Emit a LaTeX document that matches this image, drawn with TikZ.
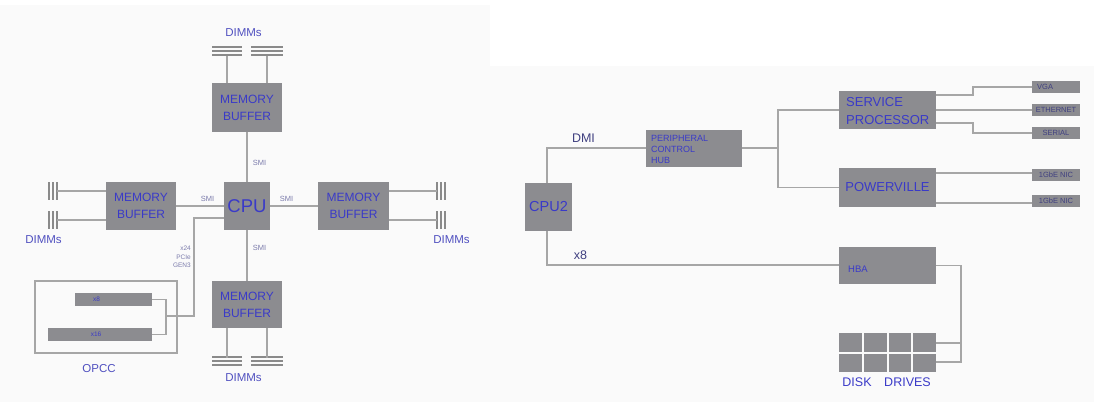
\documentclass[tikz,border=0pt]{standalone}
\usepackage{fontspec}
\setmainfont{Liberation Sans}
\definecolor{boxgrey}{HTML}{8C8C90}
\definecolor{linegrey}{HTML}{A6A6A6}
\definecolor{txtblue}{HTML}{3A3AC8}
\definecolor{lblblue}{HTML}{5050C0}
\definecolor{smigrey}{HTML}{7C7CAC}
\definecolor{darklbl}{HTML}{404080}
\definecolor{bgpanel}{HTML}{FAFAFA}
\definecolor{slotgrey}{HTML}{8A8A8A}
\tikzset{
  blk/.style={fill=boxgrey, draw=none, inner sep=0pt, text=txtblue, align=center},
  memtxt/.style={font=\fontsize{12}{17}\selectfont},
  wire/.style={draw=linegrey, line width=1.8pt},
  thinwire/.style={draw=linegrey, line width=1.4pt},
  slotln/.style={draw=slotgrey, line width=1.1pt},
  smilbl/.style={text=smigrey, font=\fontsize{7.5}{8}\selectfont, inner sep=0pt},
  dimmlbl/.style={text=lblblue, font=\fontsize{11.5}{12}\selectfont, inner sep=0pt},
  btxt/.style={text=txtblue, inner sep=0pt, anchor=west, align=left},
  small/.style={blk, minimum width=48pt, minimum height=12pt},
  smalltxt/.style={text=darklbl, font=\fontsize{7.5}{8}\selectfont, inner sep=0pt},
  disk/.style={fill=boxgrey, draw=none, inner sep=0pt, minimum width=22.75pt, minimum height=18.5pt},
}
\begin{document}
\begin{tikzpicture}[x=1pt,y=-1pt]
% background
\fill[white] (0,0) rectangle (1094,402);
\fill[bgpanel] (0,5) rectangle (490,402);
\fill[bgpanel] (490,66) rectangle (1094,402);
\useasboundingbox (0,0) rectangle (1094,402);

% ---------------- left panel ----------------
\node[blk, memtxt, minimum width=70pt, minimum height=49pt] (mbT) at (247,107.5) {MEMORY\\BUFFER};
\node[blk, minimum width=46pt, minimum height=48pt, font=\fontsize{18.5}{20}\selectfont] (cpu) at (247,206) {CPU};
\node[blk, memtxt, minimum width=70pt, minimum height=48pt] (mbL) at (141,206) {MEMORY\\BUFFER};
\node[blk, memtxt, minimum width=71pt, minimum height=48pt] (mbR) at (353.5,206) {MEMORY\\BUFFER};
\node[blk, memtxt, minimum width=70pt, minimum height=47pt] (mbB) at (247,304.5) {MEMORY\\BUFFER};

% SMI links
\draw[wire] (mbT.south) -- (cpu.north);
\draw[wire] (cpu.south) -- (mbB.north);
\draw[wire] (mbL.east) -- (cpu.west);
\draw[wire] (cpu.east) -- (mbR.west);
\node[smilbl] (smiT) at (259.5,163) {SMI};
\node[smilbl] (smiL) at (207.5,199) {SMI};
\node[smilbl] (smiR) at (286.5,199) {SMI};
\node[smilbl] (smiB) at (259.5,248) {SMI};

% DIMM slots top
\foreach \n/\xa/\xb in {t1/212/242, t2/251/283}{
  \foreach \yy in {47,51,55}{ \draw[slotln] (\xa,\yy) -- (\xb,\yy); }
}
\coordinate (st1) at (227,56);
\coordinate (st2) at (267,56);
\draw[wire] (st1) -- (st1 |- mbT.north);
\draw[wire] (st2) -- (st2 |- mbT.north);
\node[dimmlbl] (dimmT) at (243.5,33) {DIMMs};

% DIMM slots bottom
\foreach \n/\xa/\xb in {b1/212/242, b2/251/283}{
  \foreach \yy in {357,361,365}{ \draw[slotln] (\xa,\yy) -- (\xb,\yy); }
}
\coordinate (sb1) at (227,358);
\coordinate (sb2) at (267,358);
\draw[wire] (sb1) -- (sb1 |- mbB.south);
\draw[wire] (sb2) -- (sb2 |- mbB.south);
\node[dimmlbl] (dimmB) at (243.5,378) {DIMMs};

% DIMM slots left
\foreach \ya/\yb in {182/200, 211/229}{
  \foreach \xx in {49,53,57}{ \draw[slotln] (\xx,\ya) -- (\xx,\yb); }
}
\coordinate (sl1) at (57,191);
\coordinate (sl2) at (57,220);
\draw[wire] (sl1) -- (sl1 -| mbL.west);
\draw[wire] (sl2) -- (sl2 -| mbL.west);
\node[dimmlbl] (dimmL) at (43.5,240) {DIMMs};

% DIMM slots right
\foreach \ya/\yb in {182/200, 211/229}{
  \foreach \xx in {437,441,445}{ \draw[slotln] (\xx,\ya) -- (\xx,\yb); }
}
\coordinate (sr1) at (437,191);
\coordinate (sr2) at (437,220);
\draw[wire] (sr1) -- (sr1 -| mbR.east);
\draw[wire] (sr2) -- (sr2 -| mbR.east);
\node[dimmlbl] (dimmR) at (451.5,240) {DIMMs};

% OPCC
\node[draw=linegrey, line width=1.5pt, minimum width=142pt, minimum height=72pt, inner sep=0pt] (opcc) at (106,317) {};
\node[blk, minimum width=77pt, minimum height=13pt, font=\fontsize{6.5}{7}\selectfont] (barU) at (113.5,299.5) {\hspace*{-34pt}x8};
\node[blk, minimum width=104pt, minimum height=13pt, font=\fontsize{6.5}{7}\selectfont] (barL) at (100,334.5) {\hspace*{-8pt}x16};
\coordinate (jn) at (166,316);
\coordinate (jup) at (194,218);
\draw[thinwire] (barU.east) -- (jn |- barU.east) -- (jn |- barL.east) -- (barL.east);
\draw[thinwire] (jn) -- (jn -| jup) -- (jup) -- (jup -| cpu.west);
\node[text=smigrey, font=\fontsize{6.5}{8.5}\selectfont, align=right, anchor=east, inner sep=0pt] (pcielbl) at (191,257) {x24\\PCIe\\GEN3};
\node[dimmlbl] (opcclbl) at (99,369) {OPCC};

% ---------------- right panel ----------------
\node[blk, minimum width=47pt, minimum height=48pt, font=\fontsize{14.5}{16}\selectfont] (cpu2) at (548.5,207) {CPU2};
\node[blk, minimum width=96pt, minimum height=37pt] (pch) at (694,148.5) {};
\node[btxt, font=\fontsize{9}{11}\selectfont] (pchtxt) at (651,149) {PERIPHERAL\\CONTROL\\HUB};
\node[blk, minimum width=97pt, minimum height=38pt] (sp) at (887.5,110) {};
\node[btxt, font=\fontsize{13}{18}\selectfont] (sptxt) at (846,111) {SERVICE\\PROCESSOR};
\node[blk, minimum width=97pt, minimum height=39pt, font=\fontsize{13}{14}\selectfont] (pv) at (887.5,187.5) {POWERVILLE};
\node[blk, minimum width=97pt, minimum height=37pt] (hba) at (887.5,265.5) {};
\node[btxt, font=\fontsize{9.5}{10}\selectfont] (hbatxt) at (848,269) {HBA};

% DMI and x8
\coordinate (dmic) at (547,148);
\draw[wire] (cpu2.north -| dmic) -- (dmic) -- (pch.west |- dmic);
\node[text=darklbl, font=\fontsize{12.5}{13}\selectfont, inner sep=0pt] (dmilbl) at (583.5,138) {DMI};
\coordinate (x8c) at (547,265);
\draw[wire] (cpu2.south -| x8c) -- (x8c) -- (hba.west |- x8c);
\node[text=darklbl, font=\fontsize{12.5}{13}\selectfont, inner sep=0pt] (x8lbl) at (580.5,255) {x8};

% PCH to SP / PV
\coordinate (pj) at (778,148);
\draw[wire] (pch.east |- pj) -- (pj);
\draw[wire] (sp.west) -| (pj) |- (pv.west);

% small boxes
\node[small] (vga) at (1056,87) {};
\node[smalltxt, anchor=west] (vgat) at (1037,87) {VGA};
\node[small, smalltxt] (eth) at (1056,110) {ETHERNET};
\node[small, smalltxt] (ser) at (1056,133) {SERIAL};
\node[small, smalltxt] (nic1) at (1056,174.5) {1GbE NIC};
\node[small, smalltxt] (nic2) at (1056,201) {1GbE NIC};

\coordinate (jg1) at (973,95);
\coordinate (jg3) at (973,123);
\draw[thinwire] (sp.east |- jg1) -- (jg1) -- (jg1 |- vga.west) -- (vga.west);
\draw[thinwire] (sp.east |- eth.west) -- (eth.west);
\draw[thinwire] (sp.east |- jg3) -- (jg3) -- (jg3 |- ser.west) -- (ser.west);
\coordinate (pv1) at (936,173);
\coordinate (pv2) at (936,203);
\draw[thinwire] (pv1) -- (pv1 -| nic1.west);
\draw[thinwire] (pv2) -- (pv2 -| nic2.west);

% disk drives
\foreach \i in {0,1,2,3}{
  \node[disk] (dA\i) at ({839+11.375+\i*24.75},342.25) {};
  \node[disk] (dB\i) at ({839+11.375+\i*24.75},362.75) {};
}
\node[text=txtblue, font=\fontsize{12.5}{13}\selectfont, inner sep=0pt] (disklbl) at (857,382) {DISK};
\node[text=txtblue, font=\fontsize{12.5}{13}\selectfont, inner sep=0pt] (drvlbl) at (907.5,382) {DRIVES};

\coordinate (hr) at (961,265.5);
\coordinate (dk1) at (961,343);
\coordinate (dk2) at (961,362);
\draw[thinwire] (hba.east) -- (hr) -- (dk2) -- (dB3.east |- dk2);
\draw[thinwire] (dk1) -- (dA3.east |- dk1);
\end{tikzpicture}
\end{document}
